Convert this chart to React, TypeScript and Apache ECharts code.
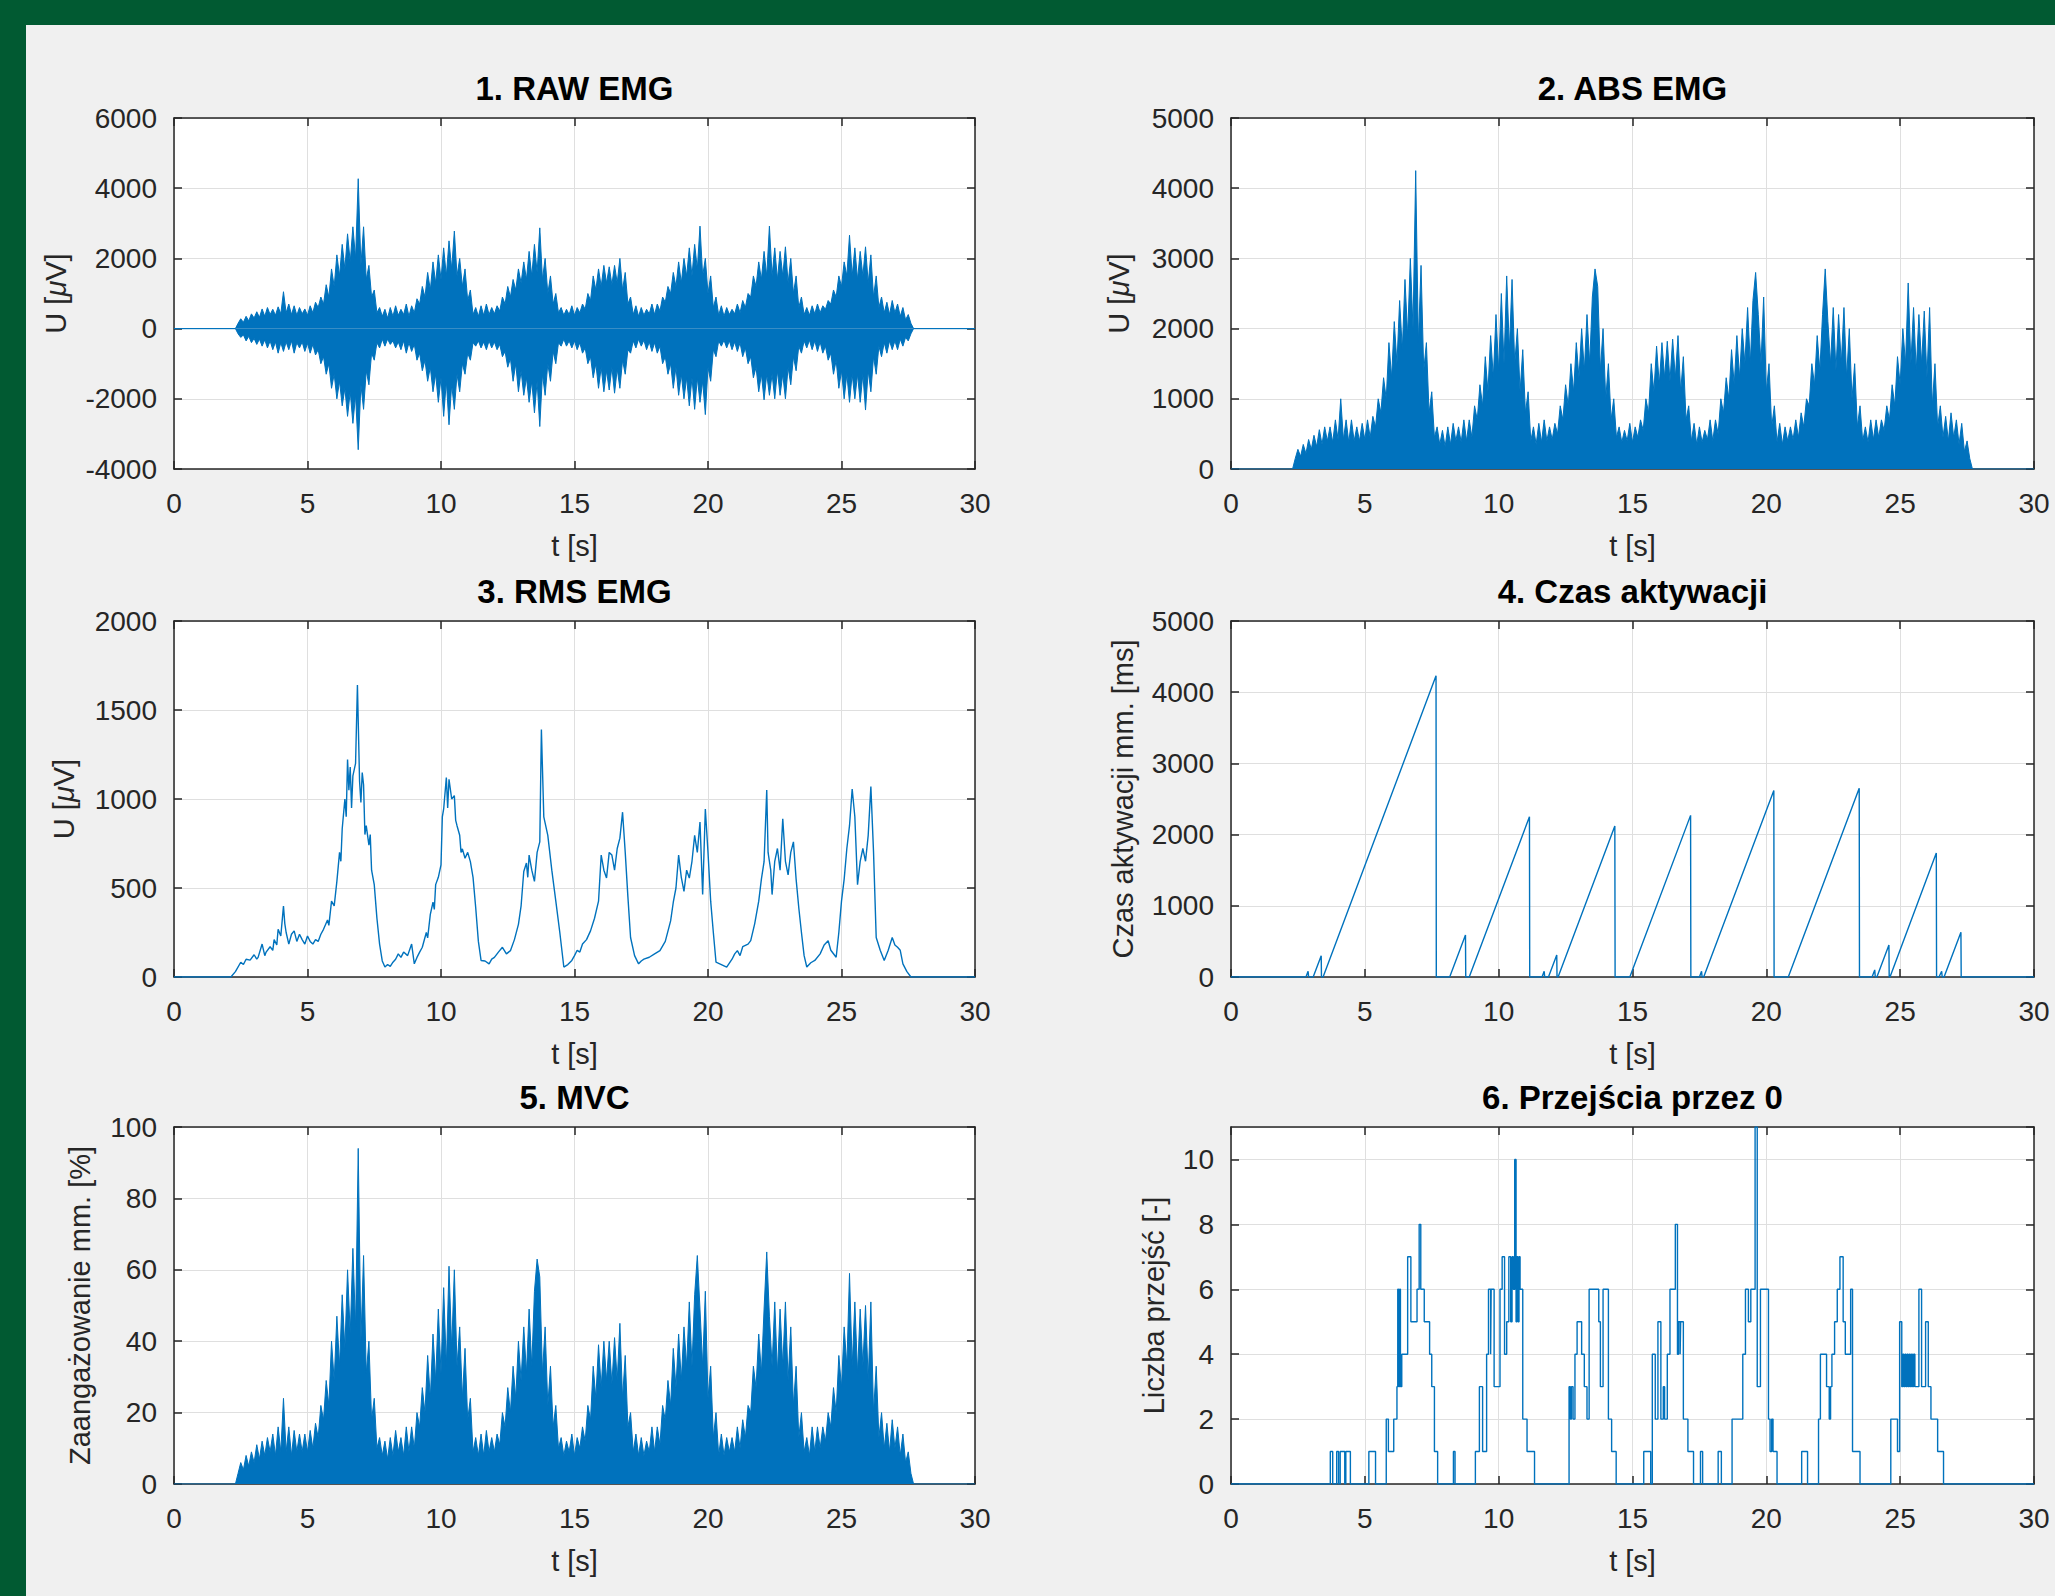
import React, { useEffect, useRef } from "react";
import * as echarts from "echarts";

// ---------- DATA ----------
// Sampled envelopes: first value at START_T, one value every STEP_T seconds
const START_T = 2.3;
const STEP_T = 0.1;

// 1. RAW EMG – upper (positive) peaks [µV]
const RAW_UP = [
  0, 150, 280, 180, 350, 220, 420,
  300, 480, 320, 560, 350, 600, 400, 550, 380, 620,
  420, 1050, 450, 700, 400, 650, 380, 600, 420, 560,
  380, 650, 450, 750, 600, 900, 700, 1250, 900, 1700,
  1200, 2100, 1500, 2400, 1700, 2700, 1900, 2900, 2000, 4270,
  1800, 2900, 1400, 1800, 900, 1100, 450, 600, 350, 550,
  300, 600, 350, 650, 380, 550, 400, 700, 350, 650,
  450, 850, 700, 1200, 900, 1600, 1100, 1900, 1300, 2100,
  1400, 2300, 1500, 2500, 1700, 2780, 1500, 2000, 1200, 1700,
  800, 1100, 400, 600, 350, 650, 380, 700, 400, 600,
  420, 650, 500, 900, 700, 1200, 900, 1400, 1100, 1700,
  1300, 1900, 1400, 2200, 1500, 2400, 1600, 2870, 1400, 2000,
  1000, 1500, 700, 1000, 450, 600, 380, 550, 400, 650,
  380, 600, 450, 700, 550, 1000, 800, 1500, 1100, 1700,
  1200, 1800, 1300, 1760, 1250, 1800, 1300, 2000, 1100, 1600,
  700, 900, 400, 650, 350, 600, 380, 550, 420, 700,
  400, 700, 500, 900, 750, 1200, 1000, 1600, 1200, 1900,
  1300, 2000, 1500, 2300, 1500, 2400, 1700, 2920, 1500, 2000,
  1000, 1500, 600, 900, 380, 650, 350, 600, 400, 550,
  420, 700, 450, 800, 600, 1000, 900, 1500, 1200, 1900,
  1400, 2200, 1500, 2920, 1500, 2300, 1400, 2200, 1500, 2330,
  1300, 2000, 1000, 1500, 600, 900, 400, 600, 380, 650,
  420, 700, 450, 650, 550, 800, 700, 1100, 900, 1500,
  1200, 1900, 1500, 2660, 1500, 2300, 1400, 2200, 1500, 2330,
  1300, 2100, 900, 1500, 600, 900, 450, 750, 400, 800,
  450, 700, 350, 600, 250, 400, 150, 0,
];

// 1. RAW EMG – lower (negative) peaks [µV]
const RAW_LO = [
  0, -150, -250, -180, -350, -220, -400,
  -280, -450, -300, -500, -320, -550, -350, -600, -380, -700,
  -400, -650, -380, -600, -350, -700, -400, -550, -380, -650,
  -420, -700, -450, -750, -600, -1000, -800, -1300, -1000, -1700,
  -1300, -2000, -1500, -2200, -1700, -2500, -1800, -2700, -1900, -3450,
  -1600, -2300, -1200, -1600, -700, -900, -400, -550, -300, -500,
  -300, -450, -350, -550, -380, -600, -350, -700, -400, -650,
  -450, -900, -700, -1200, -900, -1500, -1100, -1800, -1300, -2100,
  -1400, -2500, -1500, -2740, -1600, -2300, -1300, -1800, -1000, -1300,
  -700, -900, -400, -500, -350, -550, -380, -600, -350, -550,
  -380, -600, -450, -800, -650, -1100, -850, -1500, -1000, -1800,
  -1200, -1900, -1400, -2100, -1500, -2400, -1500, -2790, -1300, -1900,
  -1000, -1500, -650, -1000, -400, -500, -300, -500, -350, -550,
  -350, -600, -400, -700, -550, -1000, -800, -1400, -1000, -1700,
  -1100, -1800, -1200, -1750, -1100, -1840, -1150, -1700, -900, -1300,
  -600, -700, -350, -550, -300, -500, -330, -600, -380, -650,
  -400, -700, -500, -1000, -800, -1300, -1000, -1700, -1100, -1900,
  -1300, -2000, -1400, -2200, -1400, -2300, -1400, -2100, -1500, -2450,
  -1100, -1500, -600, -800, -350, -500, -330, -550, -350, -600,
  -380, -650, -400, -800, -550, -1000, -800, -1400, -1100, -1800,
  -1300, -2030, -1300, -1900, -1300, -2000, -1200, -1900, -1300, -2000,
  -1100, -1600, -800, -1200, -500, -700, -350, -550, -330, -600,
  -350, -650, -380, -700, -500, -900, -700, -1300, -900, -1700,
  -1200, -2000, -1300, -2100, -1300, -2000, -1300, -2100, -1300, -2320,
  -1200, -1800, -800, -1300, -500, -800, -400, -700, -350, -600,
  -350, -600, -300, -500, -250, -350, -150, 0,
];

// 2. ABS EMG peaks [µV]
const ABS_ENV = [
  0, 150, 280, 180, 350, 220, 420,
  280, 480, 320, 560, 350, 600, 400, 600, 380, 700,
  420, 1000, 420, 700, 380, 700, 400, 600, 400, 650,
  420, 700, 450, 750, 600, 1000, 800, 1300, 1000, 1800,
  1300, 2100, 1500, 2400, 1700, 2700, 1900, 3000, 2000, 4250,
  1800, 2900, 1400, 1800, 800, 1100, 450, 600, 350, 550,
  320, 600, 350, 650, 400, 600, 380, 700, 400, 700,
  450, 900, 700, 1200, 900, 1600, 1100, 1900, 1300, 2200,
  1400, 2500, 1500, 2750, 1700, 2700, 1500, 2000, 1100, 1700,
  800, 1100, 400, 600, 350, 650, 380, 700, 400, 600,
  420, 650, 500, 900, 700, 1200, 900, 1500, 1100, 1800,
  1300, 2000, 1400, 2200, 1500, 2450, 2850, 2600, 1400, 2000,
  1000, 1500, 700, 1000, 450, 600, 380, 550, 400, 650,
  380, 600, 450, 700, 550, 1000, 800, 1500, 1100, 1750,
  1200, 1800, 1300, 1820, 1250, 1850, 1300, 1900, 1100, 1600,
  700, 900, 400, 650, 350, 600, 380, 550, 420, 700,
  400, 700, 500, 1000, 800, 1300, 1000, 1700, 1200, 1900,
  1300, 2000, 1500, 2300, 1500, 2400, 2800, 2200, 1500, 2450,
  1100, 1500, 600, 900, 380, 650, 350, 600, 400, 600,
  420, 700, 450, 800, 600, 1000, 900, 1500, 1200, 1900,
  1400, 2200, 2850, 2100, 1500, 2300, 1400, 2200, 1500, 2300,
  1300, 2000, 1000, 1500, 600, 900, 400, 600, 380, 700,
  420, 700, 450, 700, 550, 900, 700, 1200, 900, 1600,
  1200, 2000, 1500, 2650, 1500, 2300, 1400, 2200, 1500, 2250,
  1300, 2300, 900, 1500, 600, 900, 450, 750, 400, 800,
  450, 700, 350, 650, 250, 400, 150, 0,
];

// 5. MVC peaks [%]
const MVC_ENV = [
  0, 3, 6, 4, 8, 5, 9,
  6, 11, 7, 12, 8, 13, 9, 14, 8, 16,
  9, 24, 9, 16, 8, 15, 9, 14, 9, 14,
  9, 15, 10, 17, 13, 22, 18, 29, 22, 40,
  29, 47, 33, 53, 38, 60, 42, 66, 44, 94,
  40, 64, 31, 40, 18, 24, 10, 13, 8, 12,
  7, 13, 8, 15, 9, 13, 8, 16, 9, 16,
  10, 20, 16, 27, 20, 36, 24, 42, 29, 49,
  31, 55, 33, 61, 38, 60, 33, 44, 24, 38,
  18, 24, 9, 13, 8, 14, 8, 15, 9, 13,
  9, 14, 11, 20, 16, 27, 20, 33, 24, 40,
  29, 44, 31, 49, 33, 54, 63, 58, 31, 44,
  22, 33, 16, 22, 10, 13, 8, 12, 9, 14,
  8, 13, 10, 16, 12, 22, 18, 33, 24, 39,
  27, 40, 29, 40, 28, 41, 29, 45, 24, 36,
  16, 20, 9, 14, 8, 13, 8, 12, 9, 16,
  9, 16, 11, 22, 18, 29, 22, 38, 27, 42,
  29, 44, 33, 51, 33, 53, 64, 49, 33, 54,
  24, 33, 13, 20, 8, 14, 8, 13, 9, 13,
  9, 16, 10, 18, 13, 22, 20, 33, 27, 42,
  31, 49, 65, 47, 33, 51, 31, 49, 33, 51,
  29, 44, 22, 33, 13, 20, 9, 13, 8, 16,
  9, 16, 10, 16, 12, 20, 16, 27, 20, 36,
  27, 44, 33, 59, 33, 51, 31, 49, 33, 50,
  29, 51, 20, 33, 13, 20, 10, 17, 9, 18,
  10, 16, 8, 14, 6, 9, 3, 0,
];

// 3. RMS EMG [t (s), µV]
const RMS_POINTS = [
  [0, 0], [2.13, 0], [2.3, 30], [2.5, 83], [2.6, 70], [2.7, 100], [2.85, 95], [3.0, 125], [3.1, 100], [3.15, 110],
  [3.3, 185], [3.4, 120], [3.45, 140], [3.6, 170], [3.7, 150], [3.75, 210], [3.85, 180], [3.9, 268], [4.0, 230], [4.1, 398],
  [4.15, 300], [4.2, 250], [4.3, 185], [4.4, 240], [4.5, 259], [4.6, 200], [4.7, 240], [4.8, 210], [4.9, 185],
  [5.0, 230], [5.1, 200], [5.2, 185], [5.3, 210], [5.4, 200], [5.5, 240], [5.6, 268], [5.75, 320], [5.8, 290], [5.9, 426], [6.0, 400],
  [6.1, 537], [6.2, 700], [6.25, 650], [6.3, 833], [6.4, 1000], [6.45, 900], [6.5, 1222], [6.55, 1050], [6.6, 1180],
  [6.65, 950], [6.7, 1130], [6.8, 1200], [6.87, 1640], [6.95, 1100], [7.0, 981], [7.05, 1148], [7.1, 1080],
  [7.15, 800], [7.2, 850], [7.3, 741], [7.35, 800], [7.4, 600], [7.5, 519], [7.6, 330], [7.7, 185], [7.8, 90],
  [7.9, 56], [8.0, 70], [8.1, 60], [8.2, 83], [8.3, 100], [8.4, 130], [8.5, 110], [8.6, 140], [8.75, 120],
  [8.9, 185], [9.0, 74], [9.1, 110], [9.2, 140], [9.3, 167], [9.45, 250], [9.5, 220], [9.6, 352], [9.7, 420],
  [9.75, 380], [9.8, 519], [9.9, 560], [10.0, 630], [10.05, 900], [10.1, 944], [10.2, 1120], [10.25, 950],
  [10.3, 1111], [10.4, 1000], [10.5, 1019], [10.55, 880], [10.6, 850], [10.7, 796], [10.75, 700], [10.8, 720], [10.9, 667],
  [11.0, 700], [11.1, 648], [11.2, 560], [11.3, 389], [11.4, 200], [11.5, 93], [11.65, 90],
  [11.8, 74], [11.9, 100], [12.0, 110], [12.15, 140], [12.3, 167], [12.45, 130], [12.6, 148], [12.75, 210],
  [12.9, 296], [13.0, 400], [13.1, 593], [13.2, 640], [13.25, 560], [13.3, 685], [13.4, 600], [13.5, 537],
  [13.6, 700], [13.7, 759], [13.76, 1390], [13.85, 900], [14.0, 796], [14.15, 600], [14.3, 426],
  [14.45, 250], [14.6, 56], [14.75, 70], [14.9, 93], [15.0, 120], [15.1, 150], [15.2, 140], [15.3, 185], [15.45, 210],
  [15.6, 259], [15.75, 330], [15.9, 426], [16.0, 685], [16.1, 600], [16.2, 556], [16.3, 700],
  [16.4, 685], [16.5, 600], [16.6, 722], [16.7, 780], [16.8, 926], [16.9, 700], [17.0, 450],
  [17.1, 222], [17.25, 120], [17.4, 74], [17.5, 90], [17.6, 100], [17.8, 111], [18.0, 130], [18.2, 148],
  [18.4, 200], [18.6, 315], [18.7, 420], [18.8, 500], [18.9, 685], [19.0, 560], [19.1, 481],
  [19.2, 600], [19.3, 556], [19.4, 650], [19.5, 796], [19.6, 700], [19.7, 870], [19.8, 463],
  [19.85, 700], [19.9, 944], [20.0, 700], [20.1, 426], [20.2, 250], [20.3, 83], [20.5, 70],
  [20.7, 56], [20.9, 100], [21.0, 130], [21.1, 148], [21.2, 120], [21.3, 170], [21.5, 185], [21.6, 204], [21.75, 300],
  [21.9, 426], [22.0, 550], [22.1, 648], [22.2, 1050], [22.25, 700], [22.35, 600], [22.4, 463],
  [22.5, 650], [22.6, 722], [22.7, 600], [22.8, 889], [22.9, 650], [23.0, 574], [23.1, 700],
  [23.2, 759], [23.3, 550], [23.4, 389], [23.5, 250], [23.6, 120], [23.7, 56], [23.85, 80],
  [24.0, 93], [24.2, 130], [24.35, 180], [24.5, 204], [24.6, 150], [24.8, 111], [24.9, 250],
  [25.0, 426], [25.1, 550], [25.2, 722], [25.3, 850], [25.4, 1056], [25.5, 900], [25.6, 519],
  [25.7, 650], [25.8, 722], [25.9, 650], [26.0, 796], [26.1, 1070], [26.2, 700], [26.3, 222],
  [26.45, 150], [26.6, 93], [26.75, 150], [26.9, 222], [27.0, 180], [27.1, 167], [27.2, 150],
  [27.3, 74], [27.45, 30], [27.6, 0], [30, 0],
];

// 4. Czas aktywacji [t (s), ms]
const ACT_POINTS = [
  [0, 0], [2.8, 0], [2.88, 80], [2.9, 0], [3.07, 0], [3.37, 300], [3.38, 0], [3.44, 0],
  [7.66, 4230], [7.67, 0], [8.17, 0], [8.76, 590], [8.77, 0], [8.9, 0], [11.15, 2250],
  [11.16, 0], [11.62, 0], [11.7, 80], [11.72, 0], [11.86, 0], [12.17, 310], [12.18, 0],
  [12.22, 0], [14.34, 2120], [14.35, 0], [14.9, 0], [17.17, 2270], [17.18, 0], [17.5, 0],
  [17.58, 80], [17.6, 0], [17.66, 0], [20.28, 2620], [20.29, 0], [20.82, 0], [23.47, 2650],
  [23.48, 0], [23.95, 0], [24.05, 100], [24.07, 0], [24.13, 0], [24.58, 450], [24.59, 0],
  [24.62, 0], [26.35, 1740], [26.36, 0], [26.45, 0], [26.55, 80], [26.57, 0], [26.64, 0],
  [27.27, 630], [27.28, 0], [30, 0],
];

// 6. Przejścia przez 0 [t (s), count] – value holds from t until the next point
const ZC_POINTS = [
  [0, 0], [3.71, 1], [3.8, 0], [3.95, 1], [4.02, 0], [4.08, 1], [4.25, 0], [4.29, 1], [4.46, 0],
  [5.15, 1], [5.4, 0],
  [5.8, 2], [5.88, 1], [6.08, 2], [6.2, 3], [6.23, 6], [6.26, 3], [6.3, 6], [6.33, 3], [6.38, 4],
  [6.6, 7], [6.72, 5], [6.95, 6], [7.03, 8], [7.09, 6], [7.22, 5], [7.42, 4], [7.5, 3], [7.6, 1], [7.72, 0],
  [8.31, 1], [8.37, 0],
  [9.13, 1], [9.28, 3], [9.4, 1], [9.55, 4], [9.62, 6], [9.7, 4], [9.72, 6], [9.83, 3], [10.05, 6],
  [10.13, 7], [10.22, 4], [10.3, 5], [10.38, 7], [10.45, 5], [10.5, 7], [10.55, 6], [10.6, 10],
  [10.65, 5], [10.68, 7], [10.72, 5], [10.76, 7], [10.8, 6], [10.9, 2], [11.06, 1], [11.34, 0],
  [12.63, 3], [12.68, 2], [12.72, 3], [12.78, 2], [12.85, 4], [12.93, 5], [13.1, 4], [13.2, 3],
  [13.3, 2], [13.38, 6], [13.74, 5], [13.8, 3], [13.9, 6], [14.1, 2], [14.22, 1], [14.39, 0],
  [15.42, 1], [15.68, 0], [15.74, 4], [15.85, 2], [15.95, 5], [16.06, 2], [16.15, 3], [16.2, 2],
  [16.3, 4], [16.4, 6], [16.6, 8], [16.68, 4], [16.72, 5], [16.78, 4], [16.8, 5], [16.9, 2],
  [17.07, 1], [17.28, 0],
  [17.54, 1], [17.62, 0],
  [18.2, 1], [18.32, 0], [18.72, 2], [19.12, 4], [19.22, 6], [19.33, 5], [19.42, 6], [19.58, 11],
  [19.66, 3], [19.78, 6], [20.08, 2], [20.14, 1], [20.2, 2], [20.25, 1], [20.4, 0],
  [21.32, 1], [21.54, 0],
  [21.95, 2], [22.02, 4], [22.25, 3], [22.35, 2], [22.4, 3], [22.45, 4], [22.55, 5], [22.65, 6],
  [22.75, 7], [22.87, 5], [22.95, 4], [23.15, 6], [23.22, 1], [23.5, 0],
  [24.65, 2], [24.9, 1], [24.98, 5], [25.06, 3], [25.1, 4], [25.14, 3], [25.18, 4], [25.22, 3],
  [25.26, 4], [25.3, 3], [25.34, 4], [25.38, 3], [25.42, 4], [25.46, 3], [25.5, 4], [25.55, 3],
  [25.7, 6], [25.8, 3], [25.95, 5], [26.05, 3], [26.15, 2], [26.4, 1], [26.62, 0], [30, 0],
];

const TITLES = [
  "1. RAW EMG",
  "2. ABS EMG",
  "3. RMS EMG",
  "4. Czas aktywacji",
  "5. MVC",
  "6. Przejścia przez 0",
];
const Y_NAMES = [
  "U [{i|μ}V]",
  "U [{i|μ}V]",
  "U [{i|μ}V]",
  "Czas aktywacji mm. [ms]",
  "Zaangażowanie mm. [%]",
  "Liczba przejść [-]",
];
const X_NAME = "t [s]";
const X_MIN = 0;
const X_MAX = 30;
const X_STEP = 5;
const Y_MIN = [-4000, 0, 0, 0, 0, 0];
const Y_MAX = [6000, 5000, 2000, 5000, 100, 11];
const Y_STEP = [2000, 1000, 500, 1000, 20, 2];

// ---------- LAYOUT ----------
const W = 2055;
const H = 1596;
const COL_LEFT = [174, 1231];
const COL_WIDTH = [801, 803];
const ROW_TOP = [118, 621, 1127];
const ROW_HEIGHT = [351, 356, 357];
const Y_NAME_GAP = [104, 98, 96, 94, 80, 63];

const FONT = "'Liberation Sans', Arial, Helvetica, sans-serif";
const AX = "#262626";
const BLUE = "#0072BD";
const GRIDC = "#dfdfdf";
const TICK_FS = 28;
const NAME_FS = 29;
const TITLE_FS = 33;

function sampled(arr: number[]): number[][] {
  const out: number[][] = [[X_MIN, 0]];
  arr.forEach((v, i) => out.push([Math.round((START_T + i * STEP_T) * 100) / 100, v]));
  out.push([X_MAX, 0]);
  return out;
}

const plainNum = (v: number) => String(v);

function buildOption() {
  const grids: any[] = [];
  const xAxes: any[] = [];
  const yAxes: any[] = [];
  const graphics: any[] = [];

  const lineCommon = { color: AX, width: 1.5 };
  for (let g = 0; g < 6; g++) {
    const col = g % 2;
    const row = Math.floor(g / 2);
    const left = COL_LEFT[col];
    const top = ROW_TOP[row];
    const width = COL_WIDTH[col];
    const height = ROW_HEIGHT[row];
    grids.push({
      left,
      top,
      width,
      height,
      show: true,
      backgroundColor: "#ffffff",
      borderWidth: 0,
    });
    xAxes.push({
      type: "value",
      gridIndex: g,
      position: "bottom",
      min: X_MIN,
      max: X_MAX,
      interval: X_STEP,
      axisLine: { show: true, onZero: false, lineStyle: lineCommon },
      axisTick: { show: true, inside: true, length: 8, lineStyle: lineCommon },
      axisLabel: { show: true, margin: 20, color: AX, fontSize: TICK_FS, fontFamily: FONT, formatter: plainNum },
      splitLine: { show: true, lineStyle: { color: GRIDC, width: 1 } },
      name: X_NAME,
      nameLocation: "middle",
      nameGap: 62,
      nameTextStyle: { color: AX, fontSize: NAME_FS, fontFamily: FONT },
    });
    xAxes.push({
      type: "value",
      gridIndex: g,
      position: "top",
      min: X_MIN,
      max: X_MAX,
      interval: X_STEP,
      axisLine: { show: true, onZero: false, lineStyle: lineCommon },
      axisTick: { show: true, inside: true, length: 8, lineStyle: lineCommon },
      axisLabel: { show: false },
      splitLine: { show: false },
    });
    yAxes.push({
      type: "value",
      gridIndex: g,
      position: "left",
      min: Y_MIN[g],
      max: Y_MAX[g],
      interval: Y_STEP[g],
      axisLine: { show: true, onZero: false, lineStyle: lineCommon },
      axisTick: { show: true, inside: true, length: 8, lineStyle: lineCommon },
      axisLabel: {
        show: true,
        margin: 17,
        color: AX,
        fontSize: TICK_FS,
        fontFamily: FONT,
        formatter: plainNum,
        showMaxLabel: g === 5 ? false : true,
      },
      splitLine: { show: true, lineStyle: { color: GRIDC, width: 1 } },
      name: Y_NAMES[g],
      nameLocation: "middle",
      nameRotate: 90,
      nameGap: Y_NAME_GAP[g],
      nameTextStyle: {
        color: AX,
        fontSize: NAME_FS,
        fontFamily: FONT,
        rich: {
          i: { fontStyle: "italic", fontSize: NAME_FS, fontFamily: FONT, color: AX },
        },
      },
    });
    yAxes.push({
      type: "value",
      gridIndex: g,
      position: "right",
      min: Y_MIN[g],
      max: Y_MAX[g],
      interval: Y_STEP[g],
      axisLine: { show: true, onZero: false, lineStyle: lineCommon },
      axisTick: { show: true, inside: true, length: 8, lineStyle: lineCommon },
      axisLabel: { show: false },
      splitLine: { show: false },
    });
    graphics.push({
      type: "text",
      x: left + width / 2,
      y: top - 30,
      style: {
        text: TITLES[g],
        align: "center",
        verticalAlign: "middle",
        font: `bold ${TITLE_FS}px ${FONT}`,
        fill: "#000000",
      },
    });
  }

  // green frame
  graphics.push({ type: "rect", shape: { x: 0, y: 0, width: W, height: 25 }, style: { fill: "#015a32" } });
  graphics.push({ type: "rect", shape: { x: 0, y: 0, width: 26, height: H }, style: { fill: "#015a32" } });

  const base = { type: "line", showSymbol: false, symbol: "none", silent: true, animation: false };
  const areaSeries = (g: number, data: number[][]) => ({
    ...base,
    xAxisIndex: g * 2,
    yAxisIndex: g * 2,
    data,
    lineStyle: { color: BLUE, width: 1 },
    itemStyle: { color: BLUE },
    areaStyle: { color: BLUE, opacity: 1 },
  });
  const lineSeries = (g: number, data: number[][], extra: any = {}) => ({
    ...base,
    xAxisIndex: g * 2,
    yAxisIndex: g * 2,
    data,
    lineStyle: { color: BLUE, width: 1.4 },
    itemStyle: { color: BLUE },
    ...extra,
  });

  const series = [
    areaSeries(0, sampled(RAW_UP)),
    areaSeries(0, sampled(RAW_LO)),
    areaSeries(1, sampled(ABS_ENV)),
    lineSeries(2, RMS_POINTS),
    lineSeries(3, ACT_POINTS),
    areaSeries(4, sampled(MVC_ENV)),
    lineSeries(5, ZC_POINTS, { step: "end" }),
  ];

  return {
    animation: false,
    backgroundColor: "#f0f0f0",
    grid: grids,
    xAxis: xAxes,
    yAxis: yAxes,
    series,
    graphic: graphics,
  };
}

export default function App() {
  const ref = useRef<HTMLDivElement>(null);
  useEffect(() => {
    if (!ref.current) return;
    const chart = echarts.init(ref.current, undefined, { renderer: "svg", width: W, height: H });
    chart.setOption(buildOption() as any);
    return () => chart.dispose();
  }, []);
  return (
    <div
      ref={ref}
      style={{ position: "fixed", left: 0, top: 0, width: W, height: H }}
    />
  );
}
